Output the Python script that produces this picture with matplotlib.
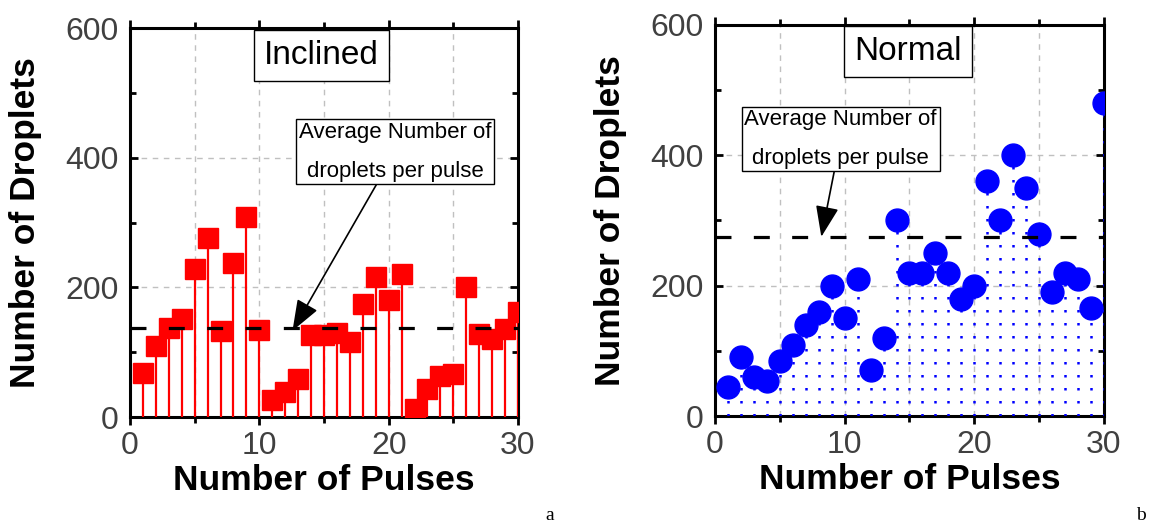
import numpy as np
import matplotlib
matplotlib.use("Agg")
from matplotlib import pyplot as plt
from matplotlib.ticker import MultipleLocator

plt.rcParams['font.family'] = ['Liberation Sans', 'DejaVu Sans']

# data
pulses = np.arange(1, 31)
inclined = [68, 110, 138, 151, 228, 276, 132, 237, 308, 135,
            27, 39, 58, 126, 126, 129, 115, 174, 216, 181,
            220, 13, 43, 64, 67, 201, 128, 121, 136, 162]
normal = [44, 90, 60, 54, 85, 109, 140, 160, 200, 150,
          210, 70, 119, 300, 220, 220, 250, 220, 180, 200,
          360, 300, 400, 350, 280, 190, 220, 210, 165, 480]
avg_inclined = 137
avg_normal = 274
panel_titles = ["Inclined", "Normal"]
panel_letters = ["a", "b"]
note_text = "Average Number of\ndroplets per pulse"

tick_grey = "#404040"


def style_axes(ax):
    ax.set_xlim(0, 30)
    ax.set_ylim(0, 600)
    ax.xaxis.set_major_locator(MultipleLocator(10))
    ax.xaxis.set_minor_locator(MultipleLocator(5))
    ax.yaxis.set_major_locator(MultipleLocator(200))
    ax.yaxis.set_minor_locator(MultipleLocator(100))
    for s in ax.spines.values():
        s.set_linewidth(2.2)
    ax.tick_params(axis='both', which='both', width=2, labelsize=23,
                   labelcolor=tick_grey, top=True, right=True)
    ax.tick_params(axis='x', which='major', direction='out', length=6, pad=4)
    ax.tick_params(axis='x', which='minor', direction='out', length=4)
    ax.tick_params(axis='y', which='major', direction='in', length=6, pad=8)
    ax.tick_params(axis='y', which='minor', direction='in', length=4)
    ax.grid(True, axis='x', which='both', color='#c0c0c0', linestyle=(0, (4, 4)), linewidth=1)
    ax.grid(True, axis='y', which='major', color='#c0c0c0', linestyle=(0, (4, 4)), linewidth=1)
    ax.set_axisbelow(True)
    ax.set_xlabel("Number of Pulses", fontsize=25.5, fontweight='bold')
    ax.set_ylabel("Number of Droplets", fontsize=25.5, fontweight='bold')
    ax.xaxis.set_label_coords(0.5, -0.12)
    ax.yaxis.set_label_coords(-0.227, 0.5)


fig = plt.figure(figsize=(11.62, 5.27), dpi=100)
ax1 = fig.add_axes([0.1119, 0.2087, 0.3339, 0.738])
ax2 = fig.add_axes([0.6153, 0.2106, 0.3348, 0.742])

# left panel: red stems with square heads
ax1.vlines(pulses, 0, inclined, color='red', linewidth=1.6, zorder=3)
ax1.plot(pulses, inclined, 's', color='red', markersize=14.5, zorder=4)
ax1.axhline(avg_inclined, color='black', linewidth=2.3, dashes=(5, 7), zorder=5)
style_axes(ax1)

# right panel: blue dotted drops with circles
ax2.vlines(pulses, 0, normal, color='blue', linewidth=1.8,
           linestyle=(0, (1, 4.2)), zorder=3)
ax2.plot(pulses, normal, 'o', color='blue', markersize=16.5, zorder=4)
ax2.axhline(avg_normal, color='black', linewidth=2.3, dashes=(5, 7), zorder=5)
style_axes(ax2)

title_box = dict(boxstyle='square,pad=0.3', facecolor='white', edgecolor='black', linewidth=1)
ax1.text(14.8, 557, panel_titles[0], fontsize=24, ha='center', va='center',
         bbox=title_box, zorder=6, clip_on=False)
ax2.text(14.88, 560, panel_titles[1], fontsize=24, ha='center', va='center',
         bbox=title_box, zorder=6, clip_on=False)

box = dict(boxstyle='square,pad=0.12', facecolor='white', edgecolor='black', linewidth=1)
arrow = dict(arrowstyle='-|>,head_length=1.2,head_width=0.45', color='black',
             linewidth=1.2, shrinkA=0, shrinkB=0)
ax1.annotate(note_text, xy=(12.56, 133), xytext=(20.5, 409), fontsize=16,
             ha='center', va='center', linespacing=2.1, bbox=box,
             arrowprops=arrow, zorder=7)
ax2.annotate(note_text, xy=(8.2, 275), xytext=(9.69, 425), fontsize=16,
             ha='center', va='center', linespacing=2.1, bbox=box,
             arrowprops=arrow, zorder=7)

fig.text(550 / 1162, 1 - 515 / 527, panel_letters[0], fontsize=14,
         family='Liberation Serif', ha='center', va='center')
fig.text(1141 / 1162, 1 - 515 / 527, panel_letters[1], fontsize=14,
         family='Liberation Serif', ha='center', va='center')

fig.savefig("out.png", dpi=100)
